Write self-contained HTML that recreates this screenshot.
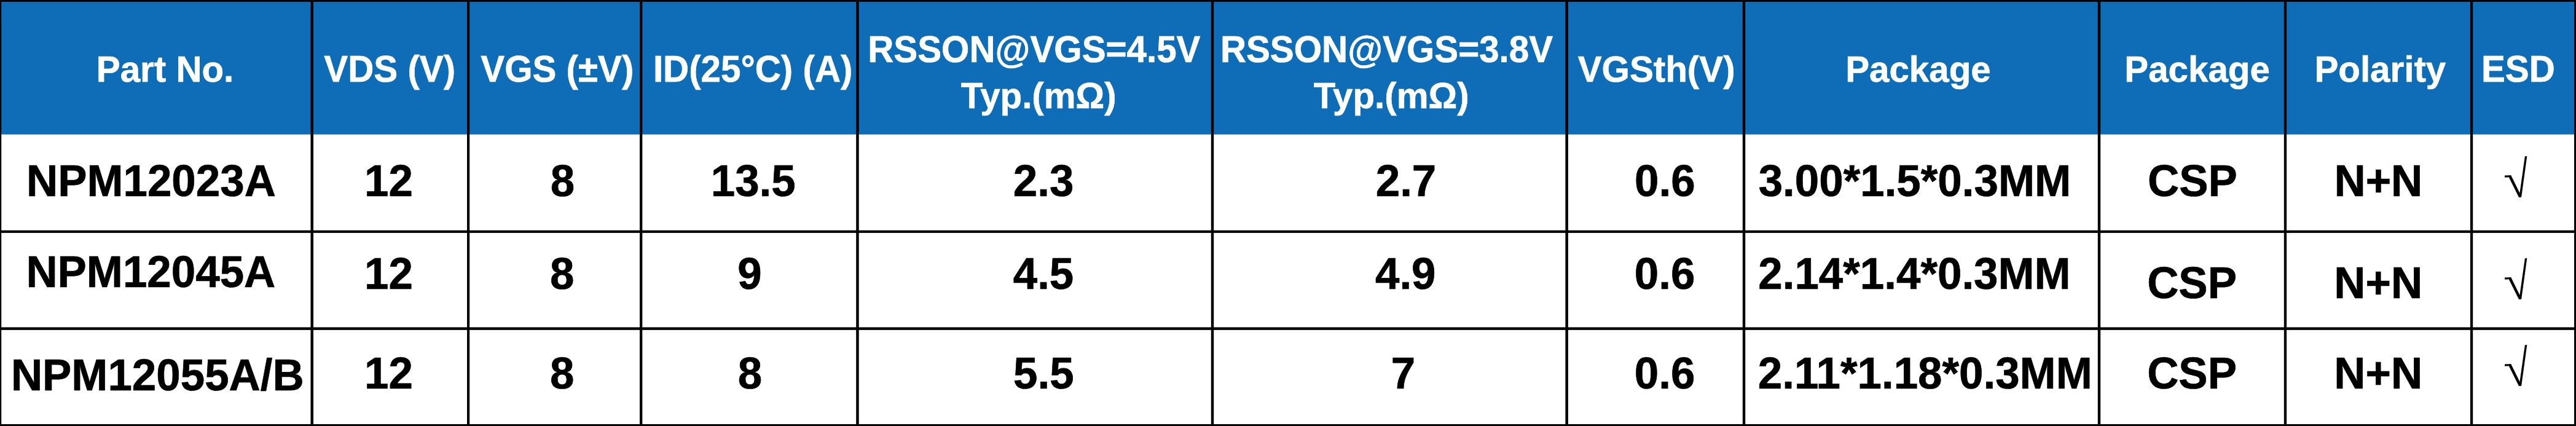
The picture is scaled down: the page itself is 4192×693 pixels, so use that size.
<!DOCTYPE html>
<html lang="en">
<head>
<meta charset="utf-8">
<title>MOSFET table</title>
<style>
html,body{margin:0;padding:0;background:#fff}
body{width:4192px;height:693px;position:relative;overflow:hidden;font-family:"Liberation Sans",Arial,sans-serif;font-weight:bold}
svg{position:absolute;left:0;top:0;display:block}
table{position:absolute;left:0;top:0;width:4192px;height:693px;border-collapse:collapse;border-spacing:0;table-layout:fixed;border:0}
th,td{padding:0;border:0;font-weight:inherit}
.t{position:absolute;display:block;white-space:nowrap;line-height:1;margin:0;padding:0}
.h{color:#fff;font-size:58.3px;-webkit-text-stroke:0.6px #fff}
.b{color:#000;font-size:70.9px;-webkit-text-stroke:0.7px #000}
.s{color:#000;font-size:70.9px;font-family:"Liberation Serif","DejaVu Serif",serif;font-weight:normal;transform-origin:0 0;transform:matrix(1.1023,-0.0624,0.1742,1.1590,0,0)}
</style>
</head>
<body>
<svg width="4192" height="693" viewBox="0 0 4192 693">
<rect x="0" y="0" width="4192" height="693" fill="#fff"/>
<rect x="0" y="0" width="4192" height="218.7" fill="#0f6cb6"/>
<rect x="505.5" y="0" width="4.5" height="693" fill="#000"/>
<rect x="760.0" y="0" width="4.2" height="693" fill="#000"/>
<rect x="1041.0" y="0" width="4.3" height="693" fill="#000"/>
<rect x="1393.2" y="0" width="4.5" height="693" fill="#000"/>
<rect x="1970.8" y="0" width="4.4" height="693" fill="#000"/>
<rect x="2547.4" y="0" width="4.5" height="693" fill="#000"/>
<rect x="2835.8" y="0" width="4.4" height="693" fill="#000"/>
<rect x="3413.8" y="0" width="4.4" height="693" fill="#000"/>
<rect x="3716.8" y="0" width="4.3" height="693" fill="#000"/>
<rect x="4019.9" y="0" width="4.3" height="693" fill="#000"/>
<rect x="0" y="374.7" width="4192" height="4.2" fill="#000"/>
<rect x="0" y="532.4" width="4192" height="4.4" fill="#000"/>
<rect x="0" y="0" width="4192" height="3" fill="#000"/>
<rect x="0" y="690" width="4192" height="3" fill="#000"/>
<rect x="0" y="0" width="2.2" height="693" fill="#000"/>
<rect x="4189" y="0" width="3" height="693" fill="#000"/>
</svg>
<table>
<colgroup><col style="width:507.75px"><col style="width:254.35px"><col style="width:281.05px"><col style="width:352.30px"><col style="width:577.55px"><col style="width:576.65px"><col style="width:288.35px"><col style="width:578.00px"><col style="width:302.95px"><col style="width:303.10px"><col style="width:169.95px"></colgroup>
<thead>
<tr style="height:218.7px">
<th><span id="h1" class="t h" style="left:156.81px;top:84.25px;transform-origin:0 48.75px">Part No.</span></th>
<th><span id="h2" class="t h" style="left:527.37px;top:84.25px;transform-origin:0 48.75px;transform:scaleY(1.035)">VDS (V)</span></th>
<th><span id="h3" class="t h" style="left:782.30px;top:84.25px;transform-origin:0 48.75px;transform:scaleY(1.035)">VGS (±V)</span></th>
<th><span id="h4" class="t h" style="left:1062.91px;top:84.25px;transform-origin:0 48.75px;transform:scaleY(1.035)">ID(25°C) (A)</span></th>
<th><span id="h5a" class="t h" style="left:1412.25px;top:52.25px;transform-origin:0 48.75px;transform:scaleY(1.035)">RSSON@VGS=4.5V</span><span id="h5b" class="t h" style="left:1563.86px;top:127.25px;transform-origin:0 48.75px">Typ.(mΩ)</span></th>
<th><span id="h6a" class="t h" style="left:1985.89px;top:52.25px;transform-origin:0 48.75px;transform:scaleY(1.035)">RSSON@VGS=3.8V</span><span id="h6b" class="t h" style="left:2137.74px;top:127.25px;transform-origin:0 48.75px">Typ.(mΩ)</span></th>
<th><span id="h7" class="t h" style="left:2567.72px;top:84.25px;transform-origin:0 48.75px">VGSth(V)</span></th>
<th><span id="h8" class="t h" style="left:3003.13px;top:84.25px;transform-origin:0 48.75px">Package</span></th>
<th><span id="h9" class="t h" style="left:3457.29px;top:84.25px;transform-origin:0 48.75px">Package</span></th>
<th><span id="h10" class="t h" style="left:3766.42px;top:84.25px;transform-origin:0 48.75px">Polarity</span></th>
<th><span id="h11" class="t h" style="left:4037.88px;top:84.25px;transform-origin:0 48.75px;transform:scaleY(1.035)">ESD</span></th>
</tr>
</thead>
<tbody>
<tr style="height:158.1px">
<td><span id="a1" class="t b" style="left:42.98px;top:259.58px;transform-origin:0 59.42px;transform:scaleY(1.026)">NPM12023A</span></td>
<td><span id="a2" class="t b" style="left:593.10px;top:259.58px;transform-origin:0 59.42px;transform:scaleY(1.026)">12</span></td>
<td><span id="a3" class="t b" style="left:895.65px;top:259.58px;transform-origin:0 59.42px;transform:scaleY(1.026)">8</span></td>
<td><span id="a4" class="t b" style="left:1156.75px;top:259.58px;transform-origin:0 59.42px;transform:scaleY(1.026)">13.5</span></td>
<td><span id="a5" class="t b" style="left:1648.87px;top:259.58px;transform-origin:0 59.42px;transform:scaleY(1.026)">2.3</span></td>
<td><span id="a6" class="t b" style="left:2238.75px;top:259.58px;transform-origin:0 59.42px;transform:scaleY(1.026)">2.7</span></td>
<td><span id="a7" class="t b" style="left:2660.08px;top:259.58px;transform-origin:0 59.42px;transform:scaleY(1.026)">0.6</span></td>
<td><span id="a8" class="t b" style="left:2861.68px;top:259.58px;transform-origin:0 59.42px;transform:scaleY(1.026)">3.00*1.5*0.3MM</span></td>
<td><span id="a9" class="t b" style="left:3494.97px;top:259.58px;transform-origin:0 59.42px;transform:scaleY(1.026)">CSP</span></td>
<td><span id="a10" class="t b" style="left:3798.45px;top:259.58px;transform-origin:0 59.42px;transform:scaleY(1.026)">N+N</span></td>
<td><span id="s1" class="t s" style="left:4068.71px;top:253.03px">√</span></td>
</tr>
<tr style="height:157.8px">
<td><span id="b1" class="t b" style="left:42.40px;top:407.58px;transform-origin:0 59.42px;transform:scaleY(1.026)">NPM12045A</span></td>
<td><span id="b2" class="t b" style="left:593.09px;top:410.58px;transform-origin:0 59.42px;transform:scaleY(1.026)">12</span></td>
<td><span id="b3" class="t b" style="left:895.05px;top:410.58px;transform-origin:0 59.42px;transform:scaleY(1.026)">8</span></td>
<td><span id="b4" class="t b" style="left:1200.36px;top:410.58px;transform-origin:0 59.42px;transform:scaleY(1.026)">9</span></td>
<td><span id="b5" class="t b" style="left:1648.73px;top:410.58px;transform-origin:0 59.42px;transform:scaleY(1.026)">4.5</span></td>
<td><span id="b6" class="t b" style="left:2237.99px;top:410.58px;transform-origin:0 59.42px;transform:scaleY(1.026)">4.9</span></td>
<td><span id="b7" class="t b" style="left:2659.85px;top:410.58px;transform-origin:0 59.42px;transform:scaleY(1.026)">0.6</span></td>
<td><span id="b8" class="t b" style="left:2861.31px;top:410.58px;transform-origin:0 59.42px;transform:scaleY(1.026)">2.14*1.4*0.3MM</span></td>
<td><span id="b9" class="t b" style="left:3494.16px;top:425.58px;transform-origin:0 59.42px;transform:scaleY(1.026)">CSP</span></td>
<td><span id="b10" class="t b" style="left:3798.32px;top:425.58px;transform-origin:0 59.42px;transform:scaleY(1.026)">N+N</span></td>
<td><span id="s2" class="t s" style="left:4069.31px;top:418.63px">√</span></td>
</tr>
<tr style="height:158.4px">
<td><span id="c1" class="t b" style="left:17.90px;top:575.58px;transform-origin:0 59.42px;transform:scaleY(1.026)">NPM12055A/B</span></td>
<td><span id="c2" class="t b" style="left:593.09px;top:572.58px;transform-origin:0 59.42px;transform:scaleY(1.026)">12</span></td>
<td><span id="c3" class="t b" style="left:895.05px;top:572.58px;transform-origin:0 59.42px;transform:scaleY(1.026)">8</span></td>
<td><span id="c4" class="t b" style="left:1200.73px;top:572.58px;transform-origin:0 59.42px;transform:scaleY(1.026)">8</span></td>
<td><span id="c5" class="t b" style="left:1649.12px;top:572.58px;transform-origin:0 59.42px;transform:scaleY(1.026)">5.5</span></td>
<td><span id="c6" class="t b" style="left:2263.67px;top:572.58px;transform-origin:0 59.42px;transform:scaleY(1.026)">7</span></td>
<td><span id="c7" class="t b" style="left:2659.85px;top:572.58px;transform-origin:0 59.42px;transform:scaleY(1.026)">0.6</span></td>
<td><span id="c8" class="t b" style="left:2860.87px;top:572.58px;transform-origin:0 59.42px;transform:scaleY(1.026)">2.11*1.18*0.3MM</span></td>
<td><span id="c9" class="t b" style="left:3494.16px;top:572.58px;transform-origin:0 59.42px;transform:scaleY(1.026)">CSP</span></td>
<td><span id="c10" class="t b" style="left:3798.32px;top:572.58px;transform-origin:0 59.42px;transform:scaleY(1.026)">N+N</span></td>
<td><span id="s3" class="t s" style="left:4069.31px;top:560.33px">√</span></td>
</tr>
</tbody>
</table>
</body>
</html>
